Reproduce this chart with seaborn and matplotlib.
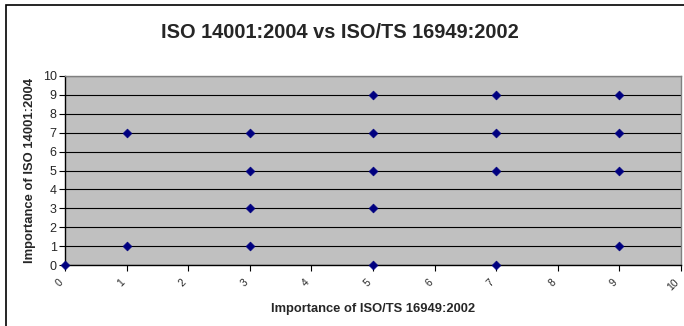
import matplotlib
matplotlib.use("Agg")
import matplotlib.pyplot as plt
import seaborn as sns
import pandas as pd
from matplotlib.patches import Rectangle

# Importance scores: ISO/TS 16949:2002 (x) against ISO 14001:2004 (y)
ts16949 = [0, 1, 1, 3, 3, 3, 3, 5, 5, 5, 5, 5, 7, 7, 7, 7, 9, 9, 9, 9]
iso14001 = [0, 1, 7, 1, 3, 5, 7, 0, 3, 5, 7, 9, 0, 5, 7, 9, 1, 5, 7, 9]
ticks = list(range(0, 11))

df = pd.DataFrame({"ts": ts16949, "iso": iso14001})

sns.set_style("white")
plt.rcParams["font.family"] = ["Liberation Sans", "DejaVu Sans"]

W, H = 684, 326
fig = plt.figure(figsize=(W / 100, H / 100), dpi=100)
fig.patch.set_facecolor("white")

ax = fig.add_axes([65 / W, 1 - 265 / H, (681 - 65) / W, (265 - 76) / H])
ax.set_facecolor("#C0C0C0")

sns.scatterplot(data=df, x="ts", y="iso", marker="D", s=20, color="#000080",
                edgecolor="#000080", linewidth=0.5, ax=ax, clip_on=False, zorder=5)

ax.set_xlim(0, 10)
ax.set_ylim(0, 10)
ax.set_xticks(ticks)
ax.set_yticks(ticks)
ax.set_xticklabels([str(t) for t in ticks], rotation=45, ha="right",
                   va="top", fontsize=7.5)
ax.set_yticklabels([str(t) for t in ticks], fontsize=9)
ax.yaxis.grid(True, color="black", linewidth=0.8)
ax.xaxis.grid(False)
ax.set_axisbelow(True)

ax.tick_params(axis="both", direction="out", length=4, width=0.8,
               color="black", bottom=True, left=True, pad=2)
ax.tick_params(axis="x", pad=5)

for side in ("left", "bottom"):
    ax.spines[side].set_color("black")
    ax.spines[side].set_linewidth(1.0)
for side in ("top", "right"):
    ax.spines[side].set_color("#808080")
    ax.spines[side].set_linewidth(1.0)

ax.set_xlabel("Importance of ISO/TS 16949:2002", fontsize=9.3,
              fontweight="bold", labelpad=7)
ax.set_ylabel("Importance of ISO 14001:2004", fontsize=9.4,
              fontweight="bold", labelpad=5)

fig.text(0.497, 1 - 33 / H, "ISO 14001:2004 vs ISO/TS 16949:2002",
         ha="center", va="center", fontsize=14.4, fontweight="bold")

# chart frame (runs past the right and bottom edges)
fig.patches.append(Rectangle((6 / W, -0.2), 1.2, 1 - 5 / H + 0.2,
                             transform=fig.transFigure, fill=False,
                             edgecolor="black", linewidth=1.2, zorder=10))

fig.savefig("out.png", dpi=100)
